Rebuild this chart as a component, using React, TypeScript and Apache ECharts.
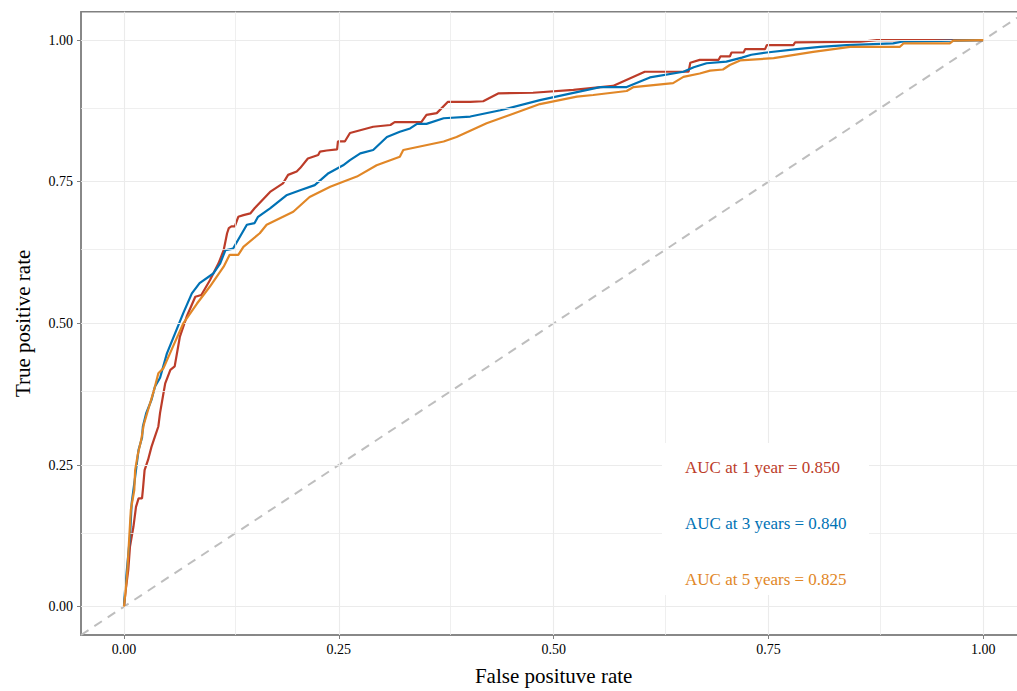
import React, { useEffect, useRef } from "react";
import * as echarts from "echarts";

// ROC curve points [false positive rate, true positive rate]
const roc1Year: [number, number][] = [
  [0, 0], [0.002, 0.029], [0.005, 0.065], [0.007, 0.106], [0.011, 0.141], [0.014, 0.176],
  [0.017, 0.191], [0.021, 0.191], [0.022, 0.206], [0.024, 0.241], [0.028, 0.259], [0.032, 0.282],
  [0.036, 0.3], [0.04, 0.318], [0.042, 0.342], [0.046, 0.377], [0.048, 0.394], [0.054, 0.418],
  [0.059, 0.424], [0.065, 0.476], [0.073, 0.512], [0.083, 0.547], [0.09, 0.55], [0.1, 0.576],
  [0.11, 0.606], [0.116, 0.629], [0.12, 0.659], [0.122, 0.668], [0.125, 0.671], [0.129, 0.671],
  [0.133, 0.688], [0.139, 0.691], [0.147, 0.694], [0.152, 0.703], [0.17, 0.732], [0.185, 0.747],
  [0.191, 0.762], [0.201, 0.768], [0.205, 0.774], [0.214, 0.791], [0.226, 0.797], [0.228, 0.803],
  [0.236, 0.805], [0.248, 0.807], [0.249, 0.821], [0.257, 0.821], [0.263, 0.836], [0.29, 0.847],
  [0.31, 0.85], [0.315, 0.855], [0.346, 0.855], [0.352, 0.868], [0.364, 0.871], [0.377, 0.891],
  [0.403, 0.891], [0.418, 0.892], [0.436, 0.906], [0.476, 0.907], [0.523, 0.912], [0.569, 0.919],
  [0.606, 0.944], [0.657, 0.944], [0.659, 0.96], [0.67, 0.965], [0.692, 0.965], [0.694, 0.971],
  [0.705, 0.971], [0.707, 0.978], [0.721, 0.978], [0.723, 0.984], [0.746, 0.984], [0.748, 0.991],
  [0.779, 0.991], [0.781, 0.996], [0.857, 0.997], [0.876, 1.0], [1, 1],
];

const roc3Years: [number, number][] = [
  [0, 0], [0.001, 0.024], [0.003, 0.059], [0.007, 0.124], [0.009, 0.183], [0.013, 0.229],
  [0.017, 0.277], [0.021, 0.298], [0.022, 0.318], [0.026, 0.342], [0.032, 0.365], [0.036, 0.388],
  [0.042, 0.404], [0.05, 0.447], [0.061, 0.488], [0.069, 0.518], [0.079, 0.553], [0.088, 0.571],
  [0.104, 0.588], [0.112, 0.606], [0.118, 0.629], [0.127, 0.632], [0.143, 0.674], [0.152, 0.677],
  [0.156, 0.688], [0.17, 0.703], [0.189, 0.726], [0.205, 0.735], [0.222, 0.744], [0.238, 0.765],
  [0.255, 0.779], [0.263, 0.788], [0.275, 0.8], [0.29, 0.806], [0.306, 0.829], [0.321, 0.838],
  [0.333, 0.844], [0.341, 0.852], [0.352, 0.852], [0.372, 0.862], [0.403, 0.865], [0.438, 0.876],
  [0.484, 0.894], [0.554, 0.917], [0.585, 0.917], [0.612, 0.934], [0.651, 0.944], [0.663, 0.952],
  [0.678, 0.959], [0.701, 0.962], [0.719, 0.969], [0.73, 0.974], [0.748, 0.978], [0.783, 0.984],
  [0.81, 0.988], [0.841, 0.991], [0.895, 0.994], [0.905, 0.997], [0.965, 0.999], [1, 1],
];

const roc5Years: [number, number][] = [
  [0, 0], [0.002, 0.029], [0.004, 0.065], [0.006, 0.118], [0.008, 0.171], [0.012, 0.206],
  [0.013, 0.241], [0.016, 0.268], [0.02, 0.294], [0.023, 0.321], [0.028, 0.347], [0.033, 0.372],
  [0.036, 0.388], [0.04, 0.412], [0.046, 0.421], [0.057, 0.459], [0.069, 0.5], [0.085, 0.535],
  [0.1, 0.565], [0.116, 0.6], [0.123, 0.621], [0.133, 0.621], [0.139, 0.635], [0.158, 0.659],
  [0.166, 0.674], [0.197, 0.697], [0.216, 0.723], [0.24, 0.741], [0.255, 0.75], [0.271, 0.759],
  [0.294, 0.779], [0.321, 0.794], [0.325, 0.806], [0.372, 0.821], [0.387, 0.829], [0.422, 0.853],
  [0.484, 0.887], [0.527, 0.9], [0.546, 0.903], [0.585, 0.91], [0.593, 0.917], [0.639, 0.924],
  [0.651, 0.935], [0.67, 0.941], [0.682, 0.946], [0.697, 0.948], [0.705, 0.956], [0.717, 0.964],
  [0.756, 0.968], [0.802, 0.979], [0.845, 0.988], [0.903, 0.988], [0.907, 0.994], [0.961, 0.994],
  [0.965, 0.999], [1, 1],
];

const seriesNames = ["1 year", "3 years", "5 years"];
const aucLabels = ["AUC at 1 year = 0.850", "AUC at 3 years = 0.840", "AUC at 5 years = 0.825"];
const colors = ["#BC3C29", "#0072B5", "#E18727"];
const majorTicks = [0, 0.25, 0.5, 0.75, 1];
const minorTicks = [0.125, 0.375, 0.625, 0.875];
const axisRange = [-0.05, 1.05];
const diagonal: [number, number][] = [[-0.05, -0.05], [1.05, 1.05]];

const FONT = "'Liberation Serif', 'Times New Roman', serif";

export default function App() {
  const ref = useRef<HTMLDivElement>(null);
  useEffect(() => {
    if (!ref.current) return;
    const chart = echarts.init(ref.current, undefined, { renderer: "svg" });
    const gridLineData = [
      ...majorTicks.map((v) => ({ xAxis: v, lineStyle: { width: 1.1 } })),
      ...minorTicks.map((v) => ({ xAxis: v, lineStyle: { width: 0.8 } })),
      ...majorTicks.map((v) => ({ yAxis: v, lineStyle: { width: 1.1 } })),
      ...minorTicks.map((v) => ({ yAxis: v, lineStyle: { width: 0.8 } })),
    ];
    const axisCommon = {
      type: "value" as const,
      min: axisRange[0],
      max: axisRange[1],
      splitLine: { show: false },
      axisLine: { show: true, onZero: false, lineStyle: { color: "#808080", width: 1.5 } },
      axisTick: { show: true, customValues: majorTicks, length: 4, lineStyle: { color: "#808080", width: 1 } },
      nameLocation: "middle" as const,
      nameTextStyle: { fontFamily: FONT, fontSize: 21, color: "#000" },
    };
    const ds = [roc1Year, roc3Years, roc5Years];
    chart.setOption({
      animation: false,
      backgroundColor: "#fff",
      grid: {
        left: 81,
        top: 11.7,
        width: 945.3,
        height: 623.3,
        show: true,
        containLabel: false,
        outerBoundsMode: "none",
        borderColor: "#808080",
        borderWidth: 1.5,
        backgroundColor: "transparent",
      },
      xAxis: {
        ...axisCommon,
        name: "False posituve rate",
        nameGap: 30,
        axisLabel: {
          customValues: majorTicks,
          formatter: (v: number) => v.toFixed(2),
          fontFamily: FONT,
          fontSize: 14,
          color: "#000",
          margin: 7,
        },
      },
      yAxis: {
        ...axisCommon,
        name: "True positive rate",
        nameGap: 48,
        axisLabel: {
          customValues: majorTicks,
          formatter: (v: number) => v.toFixed(2),
          fontFamily: FONT,
          fontSize: 14,
          color: "#000",
          margin: 8,
        },
      },
      series: [
        {
          type: "line",
          name: "grid",
          data: [],
          z: 0,
          silent: true,
          markLine: {
            silent: true,
            symbol: ["none", "none"],
            label: { show: false },
            lineStyle: { color: "#EBEBEB", type: "solid" },
            data: gridLineData,
            animation: false,
          },
        },
        {
          type: "line",
          name: "diagonal",
          data: diagonal,
          showSymbol: false,
          silent: true,
          z: 1,
          lineStyle: { color: "#BEBEBE", width: 2, type: [9, 7] },
        },
        ...ds.map((d, i) => ({
          type: "line",
          name: seriesNames[i],
          data: d,
          showSymbol: false,
          z: 3 + i,
          lineStyle: { color: colors[i], width: 2.2 },
          itemStyle: { color: colors[i] },
        })),
      ],
      graphic: [
        {
          type: "rect",
          z: 10,
          shape: { x: 662, y: 443, width: 207, height: 152 },
          style: { fill: "#fff" },
        },
        ...aucLabels.map((t, i) => ({
          type: "text",
          z: 11,
          x: 685,
          y: 467 + i * 56,
          style: {
            text: t,
            fill: colors[i],
            fontFamily: FONT,
            fontSize: 17,
            verticalAlign: "middle",
            align: "left",
          },
        })),
      ],
    });
    return () => chart.dispose();
  }, []);
  return (
    <div
      ref={ref}
      style={{ position: "fixed", left: 0, top: 0, width: 1017, height: 691 }}
    />
  );
}
